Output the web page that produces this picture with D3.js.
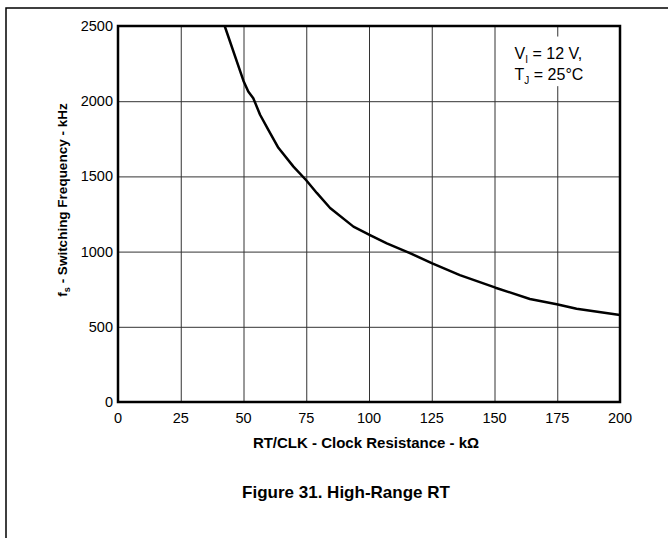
<!DOCTYPE html>
<html>
<head>
<meta charset="utf-8">
<script src="https://cdn.jsdelivr.net/npm/d3@7"></script>
<style>
  body { margin: 0; background: #fff; }
  svg { display: block; font-family: Arial, "Liberation Sans", sans-serif; }
</style>
</head>
<body>
<div id="chart"></div>
<script>
// RT/CLK resistance (kOhm) vs switching frequency (kHz)
var resistance = [42.5, 50, 51.9, 53.9, 56.6, 59.9, 63.9, 69.9, 74.9, 79.2, 84.5, 93.8,
  100.4, 107.1, 116.3, 125.2, 136.2, 150.4, 164.1, 174.8, 182.7, 200];
var frequency = [2500, 2135, 2065, 2020, 1910, 1810, 1690, 1565, 1476, 1390, 1290, 1166,
  1110, 1055, 990, 922, 844, 760, 685, 650, 620, 578];
var xTicks = [0, 25, 50, 75, 100, 125, 150, 175, 200];
var yTicks = [0, 500, 1000, 1500, 2000, 2500];

var width = 668,
  height = 538,
  margin = { top: 26, right: 48, bottom: 136, left: 118 };

var svg = d3.select('#chart')
  .append('svg')
  .attr('width', width)
  .attr('height', height);

// page frame (top and left rule)
svg.append('path')
  .attr('d', 'M6,538V8H668')
  .attr('fill', 'none')
  .attr('stroke', '#000')
  .attr('stroke-width', 1.5);

var x = d3.scaleLinear()
  .domain([0, 200])
  .range([margin.left, width - margin.right]);

var y = d3.scaleLinear()
  .domain([0, 2500])
  .range([height - margin.bottom, margin.top]);

// grid
svg.append('g')
  .attr('transform', 'translate(0,' + y(0) + ')')
  .call(d3.axisBottom(x).tickValues(xTicks).tickSize(-(y(0) - y(2500))).tickFormat(''))
  .call(function(g) {
    g.select('.domain').remove();
    g.selectAll('line').attr('stroke', '#333').attr('stroke-width', 1);
  });

svg.append('g')
  .attr('transform', 'translate(' + x(0) + ',0)')
  .call(d3.axisLeft(y).tickValues(yTicks).tickSize(-(x(200) - x(0))).tickFormat(''))
  .call(function(g) {
    g.select('.domain').remove();
    g.selectAll('line').attr('stroke', '#333').attr('stroke-width', 1);
  });

// annotation box hides the grid behind it
svg.append('rect')
  .attr('x', x(155))
  .attr('y', y(2430))
  .attr('width', x(193) - x(155))
  .attr('height', y(2100) - y(2430))
  .attr('fill', '#fff');

var note = svg.append('text')
  .attr('x', x(158))
  .attr('y', y(2280))
  .style('font-size', '16px');
note.append('tspan').text('V');
note.append('tspan').attr('dy', 4).style('font-size', '10px').text('I');
note.append('tspan').attr('dy', -4).text(' = 12 V,');

var note2 = svg.append('text')
  .attr('x', x(158))
  .attr('y', y(2140))
  .style('font-size', '16px');
note2.append('tspan').text('T');
note2.append('tspan').attr('dy', 4).style('font-size', '10px').text('J');
note2.append('tspan').attr('dy', -4).text(' = 25°C');

// plot border
svg.append('rect')
  .attr('x', x(0))
  .attr('y', y(2500))
  .attr('width', x(200) - x(0))
  .attr('height', y(0) - y(2500))
  .attr('fill', 'none')
  .attr('stroke', '#000')
  .attr('stroke-width', 2.5);

// curve
var line = d3.line()
  .x(function(d) { return x(d[0]); })
  .y(function(d) { return y(d[1]); });

svg.append('path')
  .datum(d3.zip(resistance, frequency))
  .attr('d', line)
  .attr('fill', 'none')
  .attr('stroke', '#000')
  .attr('stroke-width', 2.5)
  .attr('stroke-linejoin', 'round');

// tick labels
svg.append('g')
  .selectAll('text')
  .data(xTicks)
  .enter()
  .append('text')
  .attr('x', function(d) { return x(d); })
  .attr('y', y(0) + 21)
  .attr('text-anchor', 'middle')
  .style('font-size', '14.5px')
  .text(function(d) { return d; });

svg.append('g')
  .selectAll('text')
  .data(yTicks)
  .enter()
  .append('text')
  .attr('x', x(0) - 5)
  .attr('y', function(d) { return y(d) + 5; })
  .attr('text-anchor', 'end')
  .style('font-size', '14.5px')
  .text(function(d) { return d; });

// axis titles
svg.append('text')
  .attr('x', 366)
  .attr('y', 448)
  .attr('text-anchor', 'middle')
  .style('font-size', '15px')
  .style('font-weight', 'bold')
  .text('RT/CLK - Clock Resistance - kΩ');

var yTitle = svg.append('text')
  .attr('transform', 'translate(67,200) rotate(-90)')
  .attr('text-anchor', 'middle')
  .style('font-size', '13.5px')
  .style('font-weight', 'bold');
yTitle.append('tspan').text('f');
yTitle.append('tspan').attr('dy', 3).style('font-size', '9px').text('s');
yTitle.append('tspan').attr('dy', -3).text(' - Switching Frequency - kHz');

// caption
svg.append('text')
  .attr('x', 346)
  .attr('y', 498)
  .attr('text-anchor', 'middle')
  .style('font-size', '17px')
  .style('font-weight', 'bold')
  .text('Figure 31. High-Range RT');
</script>
</body>
</html>
